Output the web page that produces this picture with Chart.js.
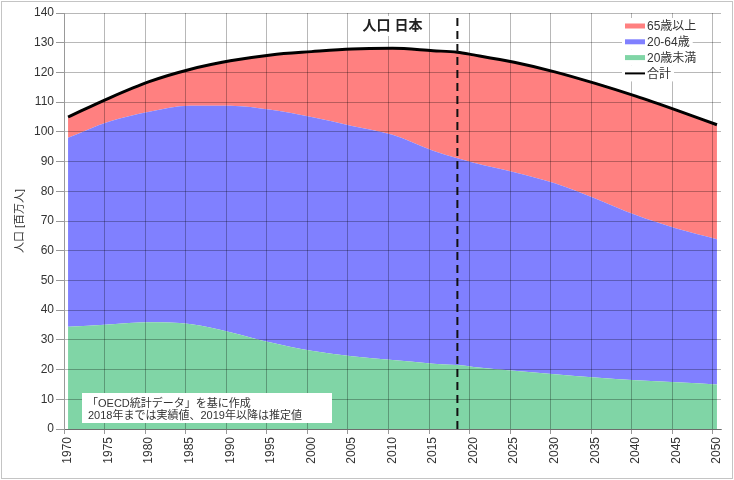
<!DOCTYPE html>
<html lang="ja">
<head>
<meta charset="utf-8">
<title>人口 日本</title>
<script src="https://cdn.jsdelivr.net/npm/chart.js@4.4.1/dist/chart.umd.min.js"></script>
<style>
    html, body { margin: 0; padding: 0; background: #fff; }
    #wrap { width: 734px; height: 480px; }
</style>
</head>
<body>
<div id="wrap"><canvas id="population-chart" width="734" height="480"></canvas></div>
<script>
// Years
const years = [1970, 1975, 1980, 1985, 1990, 1995, 2000, 2005, 2010, 2015, 2018, 2020, 2025, 2030, 2035, 2040, 2045, 2050];

// Population by age group (millions)
const under20   = [34.4, 35.2, 35.9, 35.3, 32.6, 29.1, 26.3, 24.5, 23.2, 22.0, 21.5, 20.9, 19.6, 18.4, 17.3, 16.4, 15.7, 15.0];
const age20to64 = [63.6, 68.2, 70.9, 73.5, 76.2, 78.3, 78.7, 77.5, 75.8, 71.6, 69.6, 68.7, 66.8, 64.3, 60.3, 55.6, 51.8, 48.9];
const age65plus = [7.0, 7.9, 10.1, 12.2, 15.1, 18.5, 22.0, 25.9, 29.1, 33.7, 35.7, 36.3, 37.0, 37.5, 38.7, 40.0, 39.8, 38.5];
const total     = [105.0, 111.3, 116.9, 121.0, 123.9, 125.9, 127.0, 127.9, 128.1, 127.3, 126.8, 125.9, 123.4, 120.2, 116.3, 112.0, 107.3, 102.4];

// Tick labels
const yearTicks = [1970, 1975, 1980, 1985, 1990, 1995, 2000, 2005, 2010, 2015, 2020, 2025, 2030, 2035, 2040, 2045, 2050];
const popTicks = [0, 10, 20, 30, 40, 50, 60, 70, 80, 90, 100, 110, 120, 130, 140];

// Last year of actual values (dashed divider)
const lastActualYear = 2018;

const COLOR_RED = '#ff8080';
const COLOR_BLUE = '#8080ff';
const COLOR_GREEN = '#80d5a6';
const TEXT_COLOR = '#333';
const GRID_COLOR = 'rgba(0, 0, 0, 0.28)';
const FONT_FAMILY = '"Liberation Sans", "Noto Sans CJK JP", sans-serif';

Chart.defaults.font.family = FONT_FAMILY;
Chart.defaults.color = TEXT_COLOR;

// Pair the years with a series
function toPoints(values) {
    return years.map(function(yr, i) {
        return { x: yr, y: values[i] };
    });
}

// One band of the stacked area
function areaDataset(label, values, color, fillTarget) {
    return {
        label: label,
        data: toPoints(values),
        stack: 'population',
        order: 2,
        backgroundColor: color,
        borderColor: color,
        borderWidth: 0,
        pointRadius: 0,
        fill: fillTarget,
        cubicInterpolationMode: 'monotone'
    };
}

// Title, legend, note box and outer frame
const overlayPlugin = {
    id: 'overlay',
    afterDraw: function(chart) {
        const ctx = chart.ctx;
        const area = chart.chartArea;
        ctx.save();

        // Title
        ctx.font = 'bold 14px ' + FONT_FAMILY;
        const title = '人口 日本';
        const titleX = (area.left + area.right) / 2;
        const titleY = area.top + 13;
        const tw = ctx.measureText(title).width;
        ctx.fillStyle = '#fff';
        ctx.fillRect(titleX - tw / 2 - 4, titleY - 10, tw + 8, 20);
        ctx.fillStyle = '#222';
        ctx.textAlign = 'center';
        ctx.textBaseline = 'middle';
        ctx.fillText(title, titleX, titleY);

        // Legend
        const ds = chart.data.datasets;
        const legend = [
            { text: ds[2].label, color: COLOR_RED, h: 5 },
            { text: ds[1].label, color: COLOR_BLUE, h: 5 },
            { text: ds[0].label, color: COLOR_GREEN, h: 5 },
            { text: ds[3].label, color: '#000', h: 2 }
        ];
        ctx.font = '12px ' + FONT_FAMILY;
        ctx.textAlign = 'left';
        const swatchX = area.right - 96;
        legend.forEach(function(item, i) {
            const rowY = area.top + 13 + i * 15.8;
            const w = ctx.measureText(item.text).width;
            ctx.fillStyle = '#fff';
            ctx.fillRect(swatchX - 3, rowY - 8, 22 + w + 6, 16);
            ctx.fillStyle = item.color;
            ctx.fillRect(swatchX, rowY - item.h / 2, 20, item.h);
            ctx.fillStyle = TEXT_COLOR;
            ctx.fillText(item.text, swatchX + 22, rowY + 1);
        });

        // Source note
        const noteX = area.left + 18;
        const noteBottom = area.bottom - 6;
        ctx.fillStyle = '#fff';
        ctx.fillRect(noteX, noteBottom - 30, 250, 30);
        ctx.fillStyle = TEXT_COLOR;
        ctx.font = '11px ' + FONT_FAMILY;
        ctx.fillText('「OECD統計データ」を基に作成', noteX + 5, noteBottom - 19);
        ctx.fillText('2018年までは実績値、2019年以降は推定値', noteX + 6, noteBottom - 7);

        // Outer frame
        ctx.strokeStyle = '#c4c4c4';
        ctx.lineWidth = 1;
        ctx.strokeRect(1.5, 1.5, 731, 477);

        ctx.restore();
    }
};

const ctx = document.getElementById('population-chart').getContext('2d');

new Chart(ctx, {
    type: 'line',
    data: {
        datasets: [
            areaDataset('20歳未満', under20, COLOR_GREEN, 'origin'),
            areaDataset('20-64歳', age20to64, COLOR_BLUE, '-1'),
            areaDataset('65歳以上', age65plus, COLOR_RED, '-1'),
            {
                label: '合計',
                data: toPoints(total),
                stack: 'total',
                order: 1,
                borderColor: '#000',
                borderWidth: 3,
                pointRadius: 0,
                fill: false,
                cubicInterpolationMode: 'monotone'
            },
            {
                label: '実績/推定',
                data: [{ x: lastActualYear, y: 0 }, { x: lastActualYear, y: 140 }],
                stack: 'divider',
                order: 0,
                borderColor: '#111',
                borderWidth: 2,
                borderDash: [8, 5],
                pointRadius: 0,
                fill: false
            }
        ]
    },
    options: {
        responsive: false,
        animation: false,
        layout: {
            padding: { top: 13, right: 13, left: 0, bottom: 0 }
        },
        scales: {
            x: {
                type: 'linear',
                min: 1969.5,
                max: 2050.5,
                afterBuildTicks: function(axis) {
                    // gridlines sit on the year boundaries, labels on the years
                    axis.ticks = yearTicks.map(function(yr) { return { value: yr - 0.5 }; });
                },
                afterFit: function(axis) {
                    axis.height = 51;
                },
                ticks: {
                    autoSkip: false,
                    minRotation: 90,
                    maxRotation: 90,
                    padding: 3,
                    labelOffset: 4,
                    color: TEXT_COLOR,
                    font: { size: 12 },
                    callback: function(value) {
                        return String(value + 0.5);
                    }
                },
                grid: {
                    z: 1,
                    color: GRID_COLOR,
                    tickColor: '#999',
                    tickLength: 5
                },
                border: { color: '#999', z: 1 }
            },
            y: {
                stacked: true,
                min: 0,
                max: 140,
                afterBuildTicks: function(axis) {
                    axis.ticks = popTicks.map(function(v) { return { value: v }; });
                },
                afterFit: function(axis) {
                    axis.width = 64;
                },
                ticks: {
                    padding: 2,
                    color: TEXT_COLOR,
                    font: { size: 12 }
                },
                grid: {
                    z: 1,
                    color: GRID_COLOR,
                    tickColor: '#999',
                    tickLength: 8
                },
                border: { color: '#999', z: 1 },
                title: {
                    display: true,
                    text: '人口 [百万人]',
                    color: TEXT_COLOR,
                    font: { size: 11 },
                    padding: { top: 13, bottom: 0 }
                }
            }
        },
        plugins: {
            legend: { display: false },
            tooltip: { enabled: false }
        }
    },
    plugins: [overlayPlugin]
});
</script>
</body>
</html>
